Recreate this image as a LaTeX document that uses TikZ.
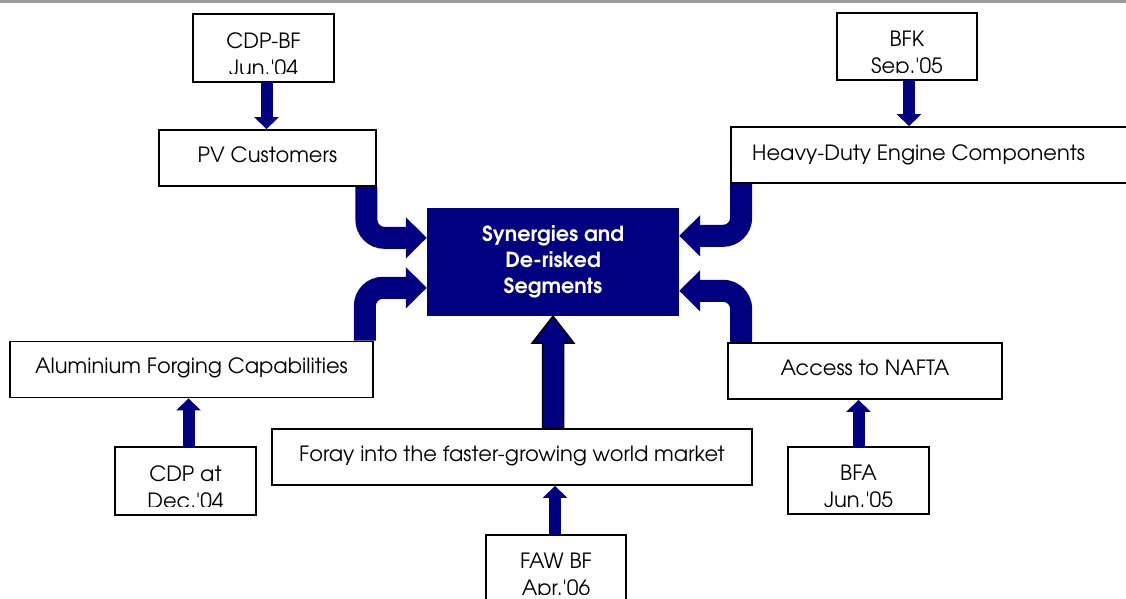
\documentclass[tikz,border=0pt]{standalone}
\usepackage{fontspec}
\setmainfont{TeX Gyre Adventor}
\usetikzlibrary{arrows.meta,calc}
\definecolor{navy}{RGB}{0,0,128}
\definecolor{rulegray}{RGB}{155,155,155}
\newcommand\datebox[4]{%
  \node[smallbox] (#1) at (#2) {};
  \begin{scope}
    \clip (#1.north west) rectangle ($(#1.south east)+(0,-8)$);
    \node[lbl, anchor=base] (#1-a) at ($(#1.north)+(0,34)$) {#3};
    \node[lbl, anchor=base] (#1-b) at ($(#1.north)+(0,61)$) {#4};
  \end{scope}
  \draw[line width=1.8pt] (#1.north west) rectangle (#1.south east);}
\newcommand\linebox[4]{% name, centre, width, text
  \node[box, minimum width=#3pt] (#1) at (#2) {};
  \node[lbl, anchor=base] (#1-t) at ($(#1.center)+(0,4)$) {#4};}
\begin{document}
\begin{tikzpicture}[x=1pt,y=-1pt,
  box/.style={draw=black, fill=white, line width=1.8pt, inner sep=0pt,
    minimum height=56pt},
  smallbox/.style={fill=white, inner sep=0pt,
    minimum width=140pt, minimum height=67pt},
  lbl/.style={inner sep=0pt, font=\fontsize{21}{26}\selectfont},
  sarrow/.style={draw=navy, line width=12pt, -{Triangle[length=12pt,width=24pt]}},
  carrow/.style={draw=navy, line width=22pt, rounded corners=18pt,
    -{Triangle[length=21pt,width=40pt]}},
]
\clip (0,0) rectangle (1126,598);
\draw[rulegray, line width=3pt] (0,1) -- (1126,1);

% date boxes
\datebox{cdpbf}{263.5,48}{CDP-BF}{Jun.\textquotesingle04}
\datebox{bfk}{907,46.5}{BFK}{Sep.\textquotesingle05}
\datebox{cdpat}{185.5,481}{CDP at}{Dec.\textquotesingle04}
\datebox{bfa}{858.5,480.5}{BFA}{Jun.\textquotesingle05}
\datebox{faw}{556,568.5}{FAW BF}{Apr.\textquotesingle06}

% one-line boxes
\linebox{pv}{267.5,158}{217}{PV Customers}
\node[box, minimum width=399pt] (hd) at (930.5,155) {};
\node[lbl, anchor=base west] (hd-t) at (752,160) {Heavy-Duty Engine Components};
\linebox{al}{191.5,369.5}{363}{Aluminium Forging Capabilities}
\linebox{foray}{512,457}{480}{Foray into the faster-growing world market}
\linebox{nafta}{865,371}{274}{Access to NAFTA}

\node[fill=navy, inner sep=0pt, minimum width=252pt, minimum height=108pt,
  text=white, align=center, font=\bfseries\fontsize{20.8}{26}\selectfont] (syn) at (553,262)
  {Synergies and\\De-risked\\Segments};

% straight arrows
\draw[sarrow] ($(cdpbf.south)+(3,0)$) -- ($(pv.north)+(-1,0)$);
\coordinate (b1) at ($(bfk.south)+(2,0)$);
\draw[sarrow] (b1) -- (b1 |- hd.north);
\coordinate (c1) at ($(cdpat.north)+(3,0)$);
\draw[sarrow] (c1) -- (c1 |- al.south);
\draw[sarrow] (bfa.north) -- (bfa.north |- nafta.south);
\coordinate (f1) at ($(faw.north)+(-1,0)$);
\draw[sarrow] (f1) -- (f1 |- foray.south);

% curved arrows
\coordinate (p1) at ($(pv.south east)+(-10.5,0)$);
\coordinate (p2) at ($(syn.north west)+(0,30)$);
\draw[carrow] (p1) |- (p2);
\coordinate (a1) at ($(al.north east)+(-9,0)$);
\coordinate (a2) at ($(syn.north west)+(0,80)$);
\draw[carrow] (a1) |- (a2);
\coordinate (h1) at ($(hd.south west)+(11,0)$);
\coordinate (h2) at ($(syn.north east)+(0,28)$);
\draw[carrow] (h1) |- (h2);
\coordinate (n1) at ($(nafta.north west)+(14,0)$);
\coordinate (n2) at ($(syn.north east)+(0,83)$);
\draw[carrow] (n1) |- (n2);

% central up arrow
\coordinate (fb) at (syn.south |- foray.north);
\draw[fill=navy, draw=black, line width=1.5pt, line join=miter]
  (syn.south) -- ++(21,27) -- ++(-10.5,0) -- ($(fb)+(10.5,0)$)
  -- ($(fb)+(-10.5,0)$) -- ($(syn.south)+(-10.5,27)$) -- ++(-10.5,0) -- cycle;
\end{tikzpicture}
\end{document}
